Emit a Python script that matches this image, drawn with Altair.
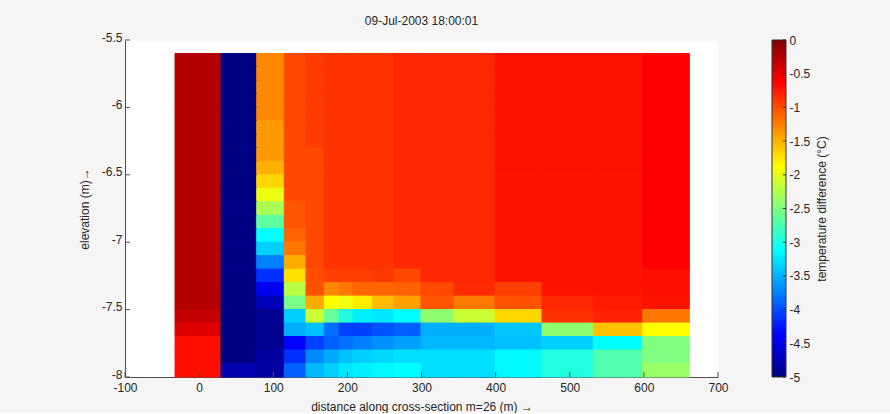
import altair as alt
import pandas as pd

FONT = "Liberation Sans"
INK = "#262626"
AXIS_INK = "#4d4d4d"

# Cell edges along the cross-section (m), left to right
x_edges = [-32.5, 29.5, 77.7, 114.9, 144.2, 168.9, 188.7, 207.6, 234.2,
           263.3, 299.3, 344.2, 399.2, 462.6, 531.8, 598.4, 661.3]

# Layer edges in elevation (m), top to bottom
z_edges = [-5.6, -5.7, -5.8, -5.9, -6.0, -6.1, -6.2, -6.3, -6.4, -6.5, -6.6, -6.7,
           -6.8, -6.9, -7.0, -7.1, -7.2, -7.3, -7.4, -7.5, -7.6, -7.7, -7.8, -7.9, -8.0]

# Temperature difference (deg C): one row per layer (top to bottom), one value per column
temp_diff = [
    [-0.26, -4.98, -1.29, -0.98, -0.92, -0.875, -0.875, -0.875, -0.875, -0.82, -0.82, -0.82, -0.72, -0.72, -0.72, -0.625],
    [-0.26, -4.98, -1.29, -0.98, -0.92, -0.875, -0.875, -0.875, -0.875, -0.82, -0.82, -0.82, -0.72, -0.72, -0.72, -0.625],
    [-0.26, -4.98, -1.29, -0.98, -0.92, -0.875, -0.875, -0.875, -0.875, -0.82, -0.82, -0.82, -0.72, -0.72, -0.72, -0.625],
    [-0.26, -4.98, -1.29, -0.98, -0.92, -0.875, -0.875, -0.875, -0.875, -0.82, -0.82, -0.82, -0.72, -0.72, -0.72, -0.625],
    [-0.26, -4.98, -1.29, -0.98, -0.92, -0.875, -0.875, -0.875, -0.875, -0.82, -0.82, -0.82, -0.72, -0.72, -0.72, -0.625],
    [-0.26, -4.98, -1.375, -0.98, -0.92, -0.875, -0.875, -0.875, -0.875, -0.82, -0.82, -0.82, -0.72, -0.72, -0.72, -0.625],
    [-0.26, -4.98, -1.375, -0.98, -0.92, -0.875, -0.875, -0.875, -0.875, -0.82, -0.82, -0.82, -0.72, -0.72, -0.72, -0.625],
    [-0.26, -4.98, -1.375, -0.98, -0.98, -0.875, -0.875, -0.875, -0.875, -0.82, -0.82, -0.82, -0.72, -0.72, -0.72, -0.625],
    [-0.26, -4.98, -1.49, -0.98, -0.98, -0.875, -0.875, -0.875, -0.875, -0.82, -0.82, -0.82, -0.72, -0.72, -0.72, -0.625],
    [-0.26, -4.98, -1.68, -0.98, -0.98, -0.875, -0.875, -0.875, -0.875, -0.82, -0.82, -0.82, -0.72, -0.72, -0.72, -0.625],
    [-0.26, -4.98, -1.96, -0.98, -0.98, -0.875, -0.875, -0.875, -0.875, -0.82, -0.82, -0.82, -0.72, -0.72, -0.72, -0.625],
    [-0.26, -4.98, -2.29, -1.04, -0.98, -0.875, -0.875, -0.875, -0.875, -0.82, -0.82, -0.82, -0.72, -0.72, -0.72, -0.625],
    [-0.26, -4.98, -2.655, -1.04, -0.98, -0.875, -0.875, -0.875, -0.875, -0.82, -0.82, -0.82, -0.72, -0.72, -0.72, -0.625],
    [-0.26, -4.98, -3.1, -1.125, -0.98, -0.875, -0.875, -0.875, -0.875, -0.82, -0.82, -0.82, -0.72, -0.72, -0.72, -0.625],
    [-0.26, -4.98, -3.355, -1.21, -0.98, -0.875, -0.875, -0.875, -0.875, -0.82, -0.82, -0.82, -0.72, -0.72, -0.72, -0.625],
    [-0.26, -4.98, -3.75, -1.46, -0.98, -0.875, -0.875, -0.875, -0.875, -0.82, -0.82, -0.82, -0.72, -0.72, -0.72, -0.625],
    [-0.26, -4.98, -4.14, -1.72, -1.0, -0.94, -0.94, -0.94, -0.90, -0.98, -0.82, -0.82, -0.72, -0.72, -0.72, -0.70],
    [-0.26, -4.98, -4.46, -2.21, -1.02, -1.29, -1.21, -1.125, -1.125, -1.10, -0.99, -0.83, -0.94, -0.72, -0.72, -0.70],
    [-0.26, -4.98, -4.725, -2.54, -1.46, -1.875, -1.95, -1.79, -1.54, -1.41, -1.04, -1.22, -1.03, -0.82, -0.75, -0.72],
    [-0.34, -4.98, -4.92, -3.355, -2.125, -2.625, -2.96, -3.2, -3.24, -3.125, -2.42, -2.125, -1.68, -0.86, -0.79, -1.21],
    [-0.47, -4.98, -4.92, -3.51, -3.43, -3.825, -4.06, -4.06, -3.98, -3.905, -3.51, -3.51, -3.395, -2.42, -1.57, -1.875],
    [-0.70, -4.98, -4.92, -4.375, -4.06, -3.905, -3.825, -3.75, -3.67, -3.59, -3.475, -3.475, -3.43, -3.355, -3.125, -2.5],
    [-0.70, -4.98, -4.84, -4.14, -3.71, -3.55, -3.43, -3.355, -3.32, -3.28, -3.28, -3.28, -3.16, -2.97, -2.73, -2.5],
    [-0.70, -4.76, -4.84, -3.905, -3.475, -3.355, -3.24, -3.2, -3.16, -3.125, -3.28, -3.28, -3.16, -2.97, -2.73, -2.375],
]

x_ticks = [-100, 0, 100, 200, 300, 400, 500, 600, 700]
z_ticks = [-8, -7.5, -7, -6.5, -6, -5.5]
cbar_ticks = [-5, -4.5, -4, -3.5, -3, -2.5, -2, -1.5, -1, -0.5, 0]

# jet colour map, piecewise linear between its corner colours
jet_domain = [-5, -4.375, -3.125, -1.875, -0.625, 0]
jet_colors = ["#000080", "#0000ff", "#00ffff", "#ffff00", "#ff0000", "#800000"]

PLOT_W, PLOT_H = 593, 337
CBAR_W, CBAR_H = 14, 337

rows = []
for k, layer in enumerate(temp_diff):
    for i, value in enumerate(layer):
        rows.append({
            "x": x_edges[i], "x2": x_edges[i + 1],
            "z_top": z_edges[k], "z_bot": z_edges[k + 1],
            "dT": value,
        })
cells = pd.DataFrame(rows)

x_scale = alt.Scale(domain=[-100, 700], nice=False, zero=False)
z_scale = alt.Scale(domain=[-8, -5.5], nice=False, zero=False)
jet = alt.Scale(domain=jet_domain, range=jet_colors, clamp=True, interpolate="rgb")

x_axis = alt.Axis(
    values=x_ticks, ticks=False, grid=False, labelPadding=5,
    labelExpr="'' + datum.value", labelFlush=False, labelOverlap=False,
    title="distance along cross-section m=26 (m) \u2192", titlePadding=8,
)
z_axis = alt.Axis(
    values=z_ticks, ticks=False, grid=False, labelPadding=3, labelOffset=-3,
    labelExpr="'' + datum.value", labelFlush=False, labelOverlap=False,
    title="elevation (m)\u2192", titlePadding=10,
)

# cells outlined in their own colour so neighbouring cells join without seams
heat = alt.Chart(cells).mark_rect(strokeWidth=1).encode(
    x=alt.X("x:Q", scale=x_scale, axis=x_axis),
    x2="x2:Q",
    y=alt.Y("z_bot:Q", scale=z_scale, axis=z_axis),
    y2="z_top:Q",
    color=alt.Color("dT:Q", scale=jet, legend=None),
    stroke=alt.Stroke("dT:Q", scale=jet, legend=None),
)

# inward tick marks, drawn above the cells (same fields, so they share the axes)
x_tick_marks = alt.Chart(pd.DataFrame({"x": x_ticks})).mark_rule(
    color=AXIS_INK, strokeWidth=1
).encode(
    x=alt.X("x:Q", scale=x_scale, axis=x_axis),
    y=alt.value(PLOT_H), y2=alt.value(PLOT_H - 5),
)
z_tick_marks = alt.Chart(pd.DataFrame({"z_bot": z_ticks})).mark_rule(
    color=AXIS_INK, strokeWidth=1
).encode(
    y=alt.Y("z_bot:Q", scale=z_scale, axis=z_axis),
    x=alt.value(0), x2=alt.value(5),
)

section = alt.layer(heat, x_tick_marks, z_tick_marks).properties(
    width=PLOT_W, height=PLOT_H,
    title=alt.TitleParams(
        "09-Jul-2003 18:00:01", fontSize=12, fontWeight="normal",
        font=FONT, color=INK, anchor="middle", offset=3,
    ),
)

# colour bar
stops = [alt.GradientStop(color=c, offset=(d - jet_domain[0]) / (jet_domain[-1] - jet_domain[0]))
         for d, c in zip(jet_domain, jet_colors)]
cbar_scale = alt.Scale(domain=[-5, 0], nice=False, zero=False)
cbar_axis = alt.Axis(
    orient="right", values=cbar_ticks, ticks=False, domain=False, grid=False,
    labelPadding=3, labelExpr="'' + datum.value", labelFlush=False, labelOverlap=False,
    title="temperature difference (\u00b0C)", titleAngle=270, titleBaseline="top",
    titlePadding=7,
)
cbar = alt.Chart(pd.DataFrame({"lo": [-5], "hi": [0]})).mark_rect(
    fill=alt.Gradient(gradient="linear", stops=stops, x1=0, x2=0, y1=1, y2=0),
    stroke="#333333", strokeWidth=1,
).encode(
    y=alt.Y("lo:Q", scale=cbar_scale, axis=cbar_axis),
    y2="hi:Q",
    x=alt.value(0), x2=alt.value(CBAR_W),
)
cbar_tick_marks = alt.Chart(pd.DataFrame({"lo": cbar_ticks})).mark_rule(
    color="#333333", strokeWidth=1
).encode(
    y=alt.Y("lo:Q", scale=cbar_scale, axis=cbar_axis),
    x=alt.value(CBAR_W - 3), x2=alt.value(CBAR_W),
)
colorbar = alt.layer(cbar, cbar_tick_marks).properties(width=CBAR_W, height=CBAR_H)

chart = alt.hconcat(section, colorbar, spacing=54, bounds="flush").properties(
    padding={"left": 77, "top": 14, "right": 61, "bottom": 0},
    background="#f5f5f5",
).configure_view(
    fill="white", stroke="transparent",
).configure_axis(
    labelFont=FONT, titleFont=FONT, labelFontSize=12, titleFontSize=12,
    titleFontWeight="normal", labelColor=INK, titleColor=INK,
    domainColor=AXIS_INK, domainWidth=1,
)

chart.save("out.html", embed_options={"renderer": "svg", "actions": False})
